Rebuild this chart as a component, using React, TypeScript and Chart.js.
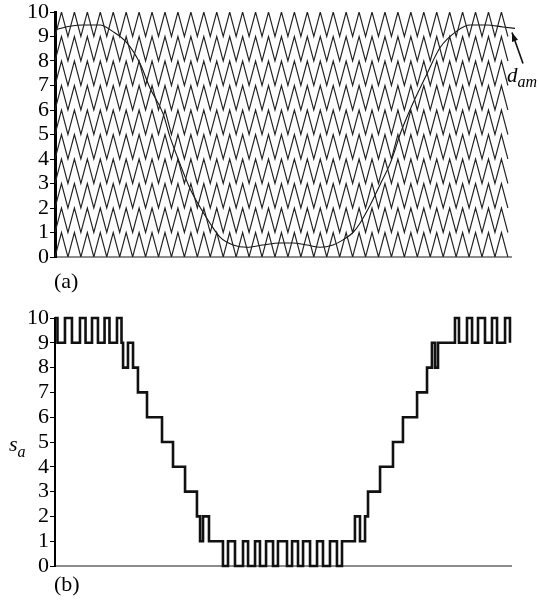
import React, { useEffect, useRef } from "react";
import { Chart, registerables } from "chart.js";

Chart.register(...registerables);

// ---------- data ----------
const Y_TICKS = [0, 1, 2, 3, 4, 5, 6, 7, 8, 9, 10];
const CARRIER_LEVELS = [0, 1, 2, 3, 4, 5, 6, 7, 8, 9];
const CARRIER_PERIODS = 35;
const X_MAX = 35.24;

// modulating reference d_am (x in carrier periods)
const DAM_U = [0, 1.16, 2.16, 3.48, 4.48, 5.56, 6.57, 7.34, 8.35, 8.89, 9.66, 10.43, 11.21, 11.98, 12.75,
  13.76, 14.84, 16.07, 17.39, 18.39, 19.47, 20.48, 21.48, 22.26, 23.03, 23.57, 24.34, 25.12, 25.89,
  26.28, 26.66, 27.43, 28.75, 29.75, 31.07, 32.07, 33.38, 34.62, 35.55];
const DAM_V = [9.28, 9.42, 9.47, 9.47, 9.2, 8.74, 7.9, 6.9, 5.85, 4.9, 3.8, 2.8, 2.03, 1.38, 0.81,
  0.49, 0.4, 0.49, 0.57, 0.57, 0.49, 0.4, 0.49, 0.7, 1.0, 1.38, 2.1, 2.95, 3.8,
  4.37, 5.0, 6.0, 7.48, 8.54, 9.23, 9.47, 9.47, 9.39, 9.33];

// switched output s_a: position where each level starts
const SA_U = [0, 0.19, 0.77, 1.31, 1.93, 2.36, 2.86, 3.32, 3.83, 4.21, 4.79, 5.14, 5.26, 5.64, 6.03,
  6.41, 7.11, 8.27, 9.12, 10.05, 10.97, 11.21, 11.44, 11.9, 12.98, 13.37, 13.91, 14.53, 14.92,
  15.46, 15.84, 16.31, 16.85, 17.23, 17.93, 18.32, 18.78, 19.17, 19.71, 20.25, 20.71, 21.25, 21.79,
  22.18, 23.18, 23.57, 23.96, 24.19, 25.12, 26.12, 26.89, 27.98, 28.75, 29.13, 29.37, 29.6, 30.91,
  31.22, 31.84, 32.23, 32.69, 33.23, 33.77, 34.16, 34.78, 35.16];
const SA_V = [10, 9, 10, 9, 10, 9, 10, 9, 10, 9, 10, 9, 8, 9, 8,
  7, 6, 5, 4, 3, 2, 1, 2, 1, 0, 1, 0, 1, 0,
  1, 0, 1, 0, 1, 0, 1, 0, 1, 0, 1, 0, 1, 0,
  1, 2, 1, 2, 3, 4, 5, 6, 7, 8, 9, 8, 9, 10,
  9, 10, 9, 10, 9, 10, 9, 10, 9];

const SERIF = "'Liberation Serif', 'Times New Roman', serif";

function makeYScale(borderWidth: number) {
  return {
    type: "linear",
    min: 0,
    max: 10,
    afterBuildTicks: (s: any) => {
      s.ticks = Y_TICKS.map((v) => ({ value: v }));
    },
    afterFit: (s: any) => {
      s.width = 55;
    },
    ticks: { color: "#000", padding: 1, autoSkip: false, font: { family: SERIF, size: 22, lineHeight: 1 } },
    grid: { drawOnChartArea: false, drawTicks: true, tickLength: 5, color: "#000", lineWidth: 1 },
    border: { display: true, color: "#000", width: borderWidth },
  };
}

function makeXScale(height: number) {
  return {
    type: "linear",
    min: 0,
    max: X_MAX,
    afterFit: (s: any) => {
      s.height = height;
    },
    ticks: { display: false },
    grid: { display: false },
    border: { display: true, color: "#8c8c8c", width: 2 },
  };
}

const arrowPlugin = {
  id: "damArrow",
  afterDatasetsDraw(chart: any) {
    const xs = chart.scales.x;
    const ys = chart.scales.y;
    const last = DAM_U.length - 1;
    const hx = xs.getPixelForValue(DAM_U[last]) - 3;
    const hy = ys.getPixelForValue(DAM_V[last]) + 4;
    const tx = hx + 11;
    const ty = hy + 31;
    const ctx = chart.ctx;
    ctx.save();
    ctx.strokeStyle = "#111";
    ctx.fillStyle = "#111";
    ctx.lineWidth = 1.6;
    ctx.beginPath();
    ctx.moveTo(tx, ty);
    ctx.lineTo(hx, hy);
    ctx.stroke();
    const ang = Math.atan2(hy - ty, hx - tx);
    const len = 9;
    const w = 3.2;
    ctx.beginPath();
    ctx.moveTo(hx, hy);
    ctx.lineTo(hx - len * Math.cos(ang) + w * Math.sin(ang), hy - len * Math.sin(ang) - w * Math.cos(ang));
    ctx.lineTo(hx - len * Math.cos(ang) - w * Math.sin(ang), hy - len * Math.sin(ang) + w * Math.cos(ang));
    ctx.closePath();
    ctx.fill();
    ctx.restore();
  },
};

export default function App() {
  const refA = useRef<HTMLCanvasElement>(null);
  const refB = useRef<HTMLCanvasElement>(null);

  useEffect(() => {
    const carrierSets = CARRIER_LEVELS.map((lvl) => {
      const pts: { x: number; y: number }[] = [];
      for (let k = 0; k <= CARRIER_PERIODS; k++) {
        pts.push({ x: k, y: lvl });
        if (k < CARRIER_PERIODS) pts.push({ x: k + 0.5, y: lvl + 1 });
      }
      return {
        data: pts,
        showLine: true,
        pointRadius: 0,
        borderColor: "#222",
        borderWidth: 1.15,
        tension: 0,
      };
    });

    const chartA = new Chart(refA.current!, {
      type: "scatter",
      data: {
        datasets: [
          ...carrierSets,
          {
            data: DAM_U.map((u, i) => ({ x: u, y: DAM_V[i] })),
            showLine: true,
            pointRadius: 0,
            borderColor: "#111",
            borderWidth: 1.1,
            cubicInterpolationMode: "monotone",
            clip: false,
          },
        ] as any,
      },
      options: {
        responsive: false,
        animation: false,
        events: [],
        layout: { padding: { top: 12, right: 28, left: 0, bottom: 0 } },
        plugins: { legend: { display: false }, tooltip: { enabled: false } },
        scales: { x: makeXScale(43), y: makeYScale(3) } as any,
      },
      plugins: [arrowPlugin],
    });

    const chartB = new Chart(refB.current!, {
      type: "scatter",
      data: {
        datasets: [
          {
            data: SA_U.map((u, i) => ({ x: u, y: SA_V[i] })),
            showLine: true,
            stepped: "before",
            pointRadius: 0,
            borderColor: "#111",
            borderWidth: 2.6,
            borderJoinStyle: "miter",
            clip: false,
          },
        ] as any,
      },
      options: {
        responsive: false,
        animation: false,
        events: [],
        layout: { padding: { top: 18, right: 28, left: 0, bottom: 0 } },
        plugins: { legend: { display: false }, tooltip: { enabled: false } },
        scales: { x: makeXScale(41), y: makeYScale(2) } as any,
      },
    });

    return () => {
      chartA.destroy();
      chartB.destroy();
    };
  }, []);

  const lbl: React.CSSProperties = {
    position: "absolute",
    fontFamily: SERIF,
    fontSize: 22,
    lineHeight: 1,
    color: "#000",
    whiteSpace: "nowrap",
  };

  return (
    <div style={{ position: "absolute", left: 0, top: 0, width: 539, height: 607, background: "#fff", overflow: "hidden" }}>
      <canvas ref={refA} width={539} height={300} style={{ position: "absolute", left: 0, top: 0, width: 539, height: 300 }} />
      <canvas ref={refB} width={539} height={307} style={{ position: "absolute", left: 0, top: 300, width: 539, height: 307 }} />
      <div style={{ ...lbl, left: 54, top: 270 }}>(a)</div>
      <div style={{ ...lbl, left: 54, top: 573 }}>(b)</div>
      <div style={{ ...lbl, left: 9, top: 433, fontStyle: "italic" }}>
        s<span style={{ fontSize: 16, position: "relative", top: 6 }}>a</span>
      </div>
      <div style={{ ...lbl, left: 507, top: 65, fontSize: 21, fontStyle: "italic" }}>
        d<span style={{ fontSize: 16, position: "relative", top: 5 }}>am</span>
      </div>
    </div>
  );
}
